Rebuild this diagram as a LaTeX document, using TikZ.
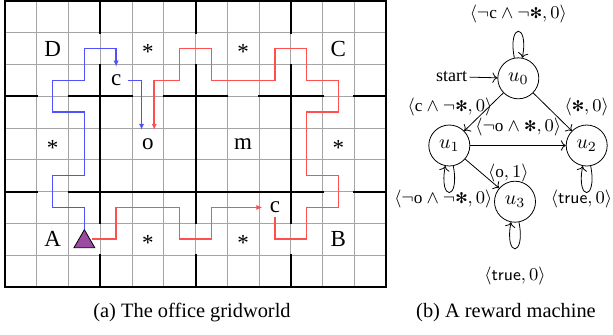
\documentclass[tikz,border=0pt]{standalone}
\usepackage{fontspec}
\setmainfont{Liberation Serif}
\newfontfamily\symfont{DejaVu Sans}
\usetikzlibrary{arrows.meta,calc,shapes.geometric}
\definecolor{pathblue}{RGB}{80,80,255}
\definecolor{pathred}{RGB}{255,80,80}
\definecolor{agentpurple}{RGB}{155,75,160}
\definecolor{gridgray}{RGB}{165,165,165}
\newcommand{\spk}{\mathord{\mbox{\symfont\fontsize{7.4}{9}\selectfont\char"273B}}}
\tikzset{
  thingrid/.style={gridgray, line width=0.5pt},
  wall/.style={black, line width=1pt, line cap=rect},
  lbl/.style={font=\fontsize{11.5}{13}\selectfont, inner sep=0pt},
  starlbl/.style={font=\fontsize{11.5}{13}\selectfont, inner sep=0pt, anchor=base, yshift=-5.6pt},
  bluepath/.style={pathblue, line width=0.85pt, -{Latex[length=3pt,width=2.6pt]}},
  redpath/.style={pathred, line width=0.85pt, -{Latex[length=3pt,width=2.6pt]}},
  rmstate/.style={circle, draw, line width=0.4pt, minimum size=20.5pt, inner sep=0pt,
                  font=\fontsize{10}{12}\selectfont},
  rmlbl/.style={inner sep=0pt},
  rmedge/.style={line width=0.4pt, ->},
  rmloopbelow/.style={rmedge, out=281, in=259, distance=18pt},
  rmloopabove/.style={rmedge, out=101, in=79, distance=18pt},
  captionlbl/.style={font=\fontsize{10.2}{12}\selectfont, inner sep=0pt}
}
\begin{document}
\begin{tikzpicture}[x=0.5pt, y=-0.5pt]
\useasboundingbox (0,0) rectangle (613,334);
% ---------------- grid world ----------------
\begin{scope}[xshift=2.5pt, yshift=-0.5pt, x=15.875pt, y=-15.875pt]
  \foreach \i in {0,...,12} \draw[thingrid] (\i,0) -- (\i,9);
  \foreach \j in {0,...,9} \draw[thingrid] (0,\j) -- (12,\j);
  \draw[wall] (0,0) rectangle (12,9);
  \foreach \a/\b in {0/1,2/4,5/7,8/10,11/12} \draw[wall] (\a,3) -- (\b,3);
  \foreach \a/\b in {0/1,2/10,11/12} \draw[wall] (\a,6) -- (\b,6);
  \foreach \x in {3,6,9} {
    \draw[wall] (\x,0) -- (\x,1);
    \draw[wall] (\x,2) -- (\x,7);
    \draw[wall] (\x,8) -- (\x,9);
  }
  \node[lbl] (D) at (1.5,1.5) {D};
  \node[starlbl] (s1) at (4.5,1.5) {*};
  \node[starlbl] (s2) at (7.5,1.5) {*};
  \node[lbl] (C) at (10.5,1.5) {C};
  \node[lbl] (c1) at (3.5,2.5) {c};
  \node[starlbl] (s3) at (1.5,4.5) {*};
  \node[lbl] (o) at (4.5,4.5) {o};
  \node[lbl] (m) at (7.5,4.5) {m};
  \node[starlbl] (s4) at (10.5,4.5) {*};
  \node[lbl] (c2) at (8.5,6.5) {c};
  \node[lbl] (A) at (1.5,7.5) {A};
  \node[starlbl] (s5) at (4.5,7.5) {*};
  \node[starlbl] (s6) at (7.5,7.5) {*};
  \node[lbl] (B) at (10.5,7.5) {B};
  \node[regular polygon, regular polygon sides=3, minimum size=12pt, inner sep=0pt,
        fill=agentpurple, draw=black, line width=0.4pt] (agent) at (2.5,7.58) {};
  \coordinate (bt1) at (3.5,2.07);
  \coordinate (bt2) at (4.3,4.06);
  \coordinate (rt2) at (4.7,4.06);
  % blue trajectory
  \draw[bluepath] (agent.north) -- (2.5,6.5) -- (1.5,6.5) -- (1.5,5.5) -- (2.5,5.5)
    -- (2.5,3.5) -- (1.5,3.5) -- (1.5,2.5) -- (2.5,2.5) -- (2.5,1.5) -- (3.5,1.5) -- (bt1);
  \draw[bluepath] ([xshift=3pt]c1.east) -- (4.3,2.5) -- (bt2);
  % red trajectory
  \draw[redpath] (agent.east |- A) -- (3.5,7.5) -- (3.5,6.5) -- (5.5,6.5) -- (5.5,7.5)
    -- (6.5,7.5) -- (6.5,6.5) -- ([xshift=-3.5pt]c2.west);
  \draw[redpath] ([yshift=-2pt]c2.south) -- (8.5,7.5) -- (9.5,7.5) -- (9.5,6.5) -- (10.5,6.5)
    -- (10.5,5.5) -- (9.5,5.5) -- (9.5,3.5) -- (10.5,3.5) -- (10.5,2.5) -- (9.5,2.5)
    -- (9.5,1.5) -- (8.5,1.5) -- (8.5,2.5) -- (6.5,2.5) -- (6.5,1.5) -- (5.5,1.5)
    -- (5.5,2.5) -- (4.7,2.5) -- (rt2);
\end{scope}
% ---------------- reward machine ----------------
\begin{scope}[font=\fontsize{8.6}{10}\selectfont]
  \node[rmstate] (u0) at (518.3,78.3) {$u_0$};
  \node[rmstate] (u1) at (449.3,145.5) {$u_1$};
  \node[rmstate] (u2) at (586.7,145.5) {$u_2$};
  \node[rmstate] (u3) at (515,201.7) {$u_3$};
  \node[inner sep=1pt, font=\fontsize{9}{10}\selectfont] (start) at (451.7,76.7) {start};
  \draw[rmedge] (start) -- (u0);
  \draw[rmedge] (u0) -- (u1);
  \draw[rmedge] (u0) -- (u2);
  \draw[rmedge] (u1) -- (u2);
  \draw[rmedge] (u1) -- (u3);
  \draw[rmloopabove] (u0) to (u0);
  \draw[rmloopbelow] (u1) to (u1);
  \draw[rmloopbelow] (u2) to (u2);
  \draw[rmloopbelow] (u3) to (u3);
  \node[rmlbl] (l00) at (518.3,14) {$\langle\neg\mathrm{c}\wedge\neg\spk,0\rangle$};
  \node[rmlbl] (l01) at (450,106.7) {$\langle\mathrm{c}\wedge\neg\spk,0\rangle$};
  \node[rmlbl] (l02) at (586.7,106.7) {$\langle\spk,0\rangle$};
  \node[rmlbl] (l12) at (518.3,126.7) {$\langle\neg\mathrm{o}\wedge\spk,0\rangle$};
  \node[rmlbl] (l13) at (508.3,172.7) {$\langle\mathrm{o},1\rangle$};
  \node[rmlbl] (l11) at (443.3,199) {$\langle\neg\mathrm{o}\wedge\neg\spk,0\rangle$};
  \node[rmlbl, anchor=east] (l22) at (612.5,199) {$\langle\textsf{true},0\rangle$};
  \node[rmlbl] (l33) at (515,276) {$\langle\textsf{true},0\rangle$};
\end{scope}
% ---------------- captions ----------------
\node[captionlbl] (capa) at (192,313) {(a) The office gridworld};
\node[captionlbl] (capb) at (506,313) {(b) A reward machine};
\end{tikzpicture}
\end{document}
